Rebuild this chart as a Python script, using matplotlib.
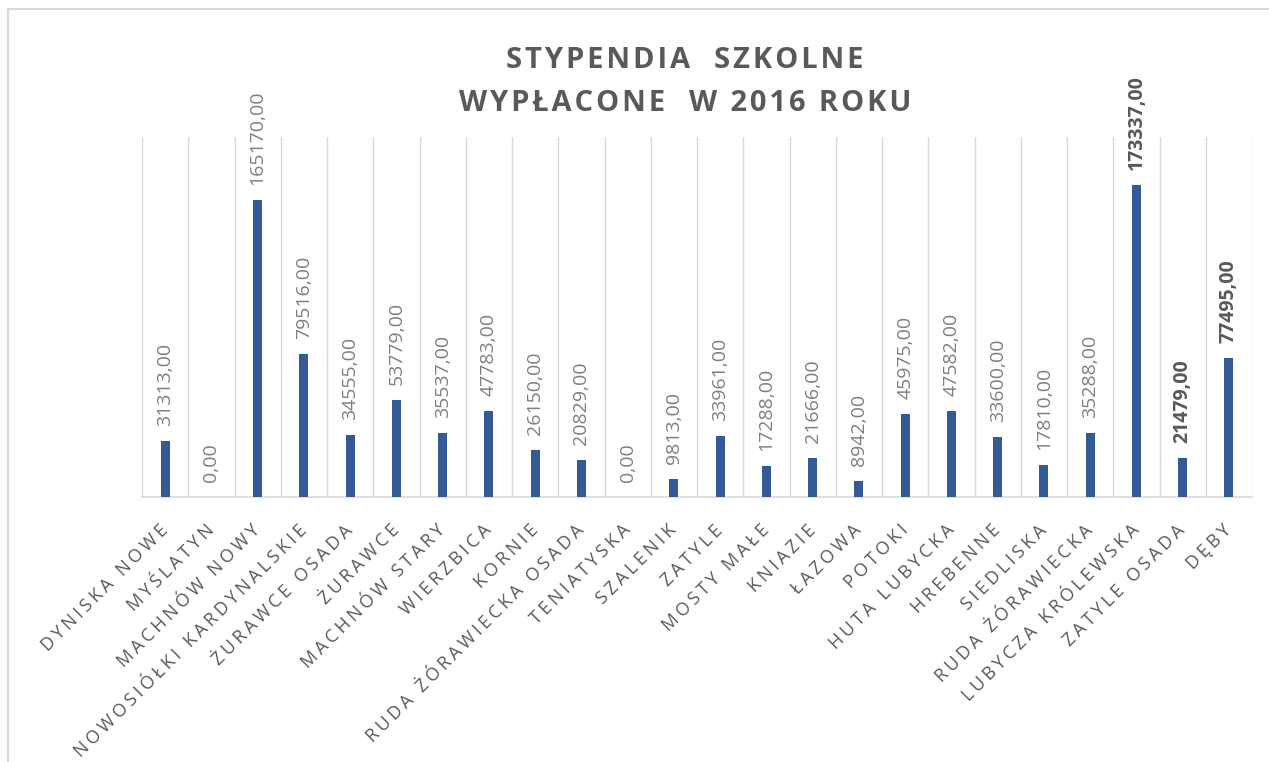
import matplotlib

matplotlib.use("Agg")
import matplotlib.pyplot as plt
from matplotlib.lines import Line2D
from matplotlib.transforms import offset_copy


BG = "#ffffff"
GRID = "#d9d9d9"
TITLE = "#595959"
LABEL = "#7f7f7f"
BOLD_LABEL = "#595959"
BAR = "#335a96"

CATEGORIES = [
    "DYNISKA NOWE", "MYŚLATYN", "MACHNÓW NOWY", "NOWOSIÓŁKI KARDYNALSKIE",
    "ŻURAWCE OSADA", "ŻURAWCE", "MACHNÓW STARY", "WIERZBICA", "KORNIE",
    "RUDA ŻÓRAWIECKA OSADA", "TENIATYSKA", "SZALENIK", "ZATYLE", "MOSTY MAŁE",
    "KNIAZIE", "ŁAZOWA", "POTOKI", "HUTA LUBYCKA", "HREBENNE", "SIEDLISKA",
    "RUDA ŻÓRAWIECKA", "LUBYCZA KRÓLEWSKA", "ZATYLE OSADA", "DĘBY",
]
VALUES = [
    31313, 0, 165170, 79516, 34555, 53779, 35537, 47783, 26150, 20829,
    0, 9813, 33961, 17288, 21666, 8942, 45975, 47582, 33600, 17810,
    35288, 173337, 21479, 77495,
]
# etykiety wyróżnione pogrubieniem
BOLD_CATEGORIES = ["LUBYCZA KRÓLEWSKA", "ZATYLE OSADA", "DĘBY"]

TITLE_LINES = ["STYPENDIA  SZKOLNE", "WYPŁACONE  W 2016 ROKU"]
Y_MAX = 200000


def fmt(value):
    return f"{value:.2f}".replace(".", ",")


def spaced(text, gap):
    # imitacja rozstrzelenia liter (jak w Excelu)
    return gap.join(text)


def main():
    plt.rcParams["font.family"] = ["Open Sans", "DejaVu Sans"]
    fig = plt.figure(figsize=(12.69, 7.62), dpi=100)
    fig.patch.set_facecolor(BG)
    ax = fig.add_axes([142 / 1269, 1 - 497 / 762, (1252 - 142) / 1269, (497 - 137) / 762])
    ax.set_facecolor(BG)

    n = len(CATEGORIES)
    x = list(range(n))
    ax.bar(x, VALUES, width=0.19, color=BAR, zorder=3)

    for i in range(n + 1):
        ax.axvline(i - 0.5, color=GRID, linewidth=1, zorder=1)
    ax.set_xlim(-0.5, n - 0.5)
    ax.set_ylim(0, Y_MAX)

    for spine in ["top", "right", "left"]:
        ax.spines[spine].set_visible(False)
    ax.spines["bottom"].set_color(GRID)
    ax.spines["bottom"].set_linewidth(1.2)
    ax.set_yticks([])

    ax.set_xticks(x)
    ax.set_xticklabels([spaced(c, "\u200a\u200a") for c in CATEGORIES], rotation=45,
                       ha="right", va="center", rotation_mode="anchor",
                       color=TITLE, fontsize=13)
    ax.tick_params(axis="x", length=0, pad=22)

    label_tr = offset_copy(ax.transData, fig=fig, x=0, y=15, units="dots")
    for xi, value, name in zip(x, VALUES, CATEGORIES):
        bold = name in BOLD_CATEGORIES
        ax.text(xi, value, fmt(value), transform=label_tr, rotation=90,
                ha="center", va="bottom", fontsize=14,
                color=BOLD_LABEL if bold else LABEL,
                fontweight="bold" if bold else "normal")

    title = "\n".join(spaced(line, "\u200a") for line in TITLE_LINES)
    fig.text(685 / 1269, 1 - 82 / 762, title, ha="center", va="center",
             fontsize=21, fontweight="bold", color=TITLE, linespacing=1.65)

    # ramka wykresu: tylko górna i lewa krawędź
    fig.add_artist(Line2D([8 / 1269, 1], [1 - 9 / 762, 1 - 9 / 762],
                          transform=fig.transFigure, color=GRID, linewidth=1.5))
    fig.add_artist(Line2D([8 / 1269, 8 / 1269], [0, 1 - 9 / 762],
                          transform=fig.transFigure, color=GRID, linewidth=1.5))

    fig.savefig("out.png", facecolor=BG)
    plt.close(fig)


if __name__ == "__main__":
    main()
